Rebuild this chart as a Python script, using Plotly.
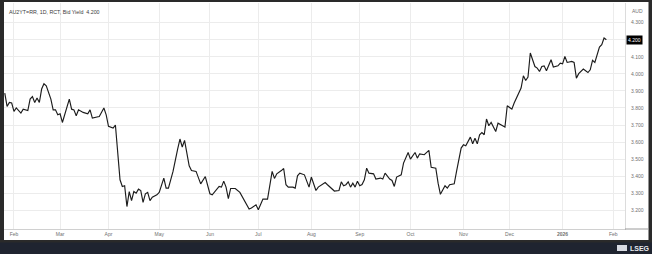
import plotly.graph_objects as go

# ---------------- data ----------------
dates = [
    "2025-01-28", "2025-01-29", "2025-01-30", "2025-01-31", "2025-02-03", "2025-02-04", "2025-02-06",
    "2025-02-07", "2025-02-11", "2025-02-12", "2025-02-13", "2025-02-14", "2025-02-17", "2025-02-18",
    "2025-02-19", "2025-02-20", "2025-02-21", "2025-02-25", "2025-02-26", "2025-02-27", "2025-02-28",
    "2025-03-03", "2025-03-04", "2025-03-05", "2025-03-07", "2025-03-10", "2025-03-11", "2025-03-12",
    "2025-03-13", "2025-03-17", "2025-03-19", "2025-03-20", "2025-03-21", "2025-03-25", "2025-03-26",
    "2025-03-28", "2025-03-31",
    "2025-04-01", "2025-04-03", "2025-04-04", "2025-04-07", "2025-04-08", "2025-04-09", "2025-04-10",
    "2025-04-11", "2025-04-14", "2025-04-15", "2025-04-16", "2025-04-17", "2025-04-18", "2025-04-21",
    "2025-04-22", "2025-04-23", "2025-04-24", "2025-04-25", "2025-04-28", "2025-04-30",
    "2025-05-01", "2025-05-05", "2025-05-06", "2025-05-07", "2025-05-09", "2025-05-13", "2025-05-14",
    "2025-05-15", "2025-05-16", "2025-05-20", "2025-05-21", "2025-05-23", "2025-05-27", "2025-05-29",
    "2025-06-02", "2025-06-03", "2025-06-06", "2025-06-09", "2025-06-10", "2025-06-11", "2025-06-12",
    "2025-06-13", "2025-06-17", "2025-06-19", "2025-06-20", "2025-06-24", "2025-06-25", "2025-06-26",
    "2025-06-30",
    "2025-07-01", "2025-07-02", "2025-07-03", "2025-07-07", "2025-07-09", "2025-07-10", "2025-07-11",
    "2025-07-15", "2025-07-16", "2025-07-17", "2025-07-18", "2025-07-22", "2025-07-23", "2025-07-24",
    "2025-07-25", "2025-07-29", "2025-07-31",
    "2025-08-01", "2025-08-05", "2025-08-06", "2025-08-07", "2025-08-11", "2025-08-12", "2025-08-14",
    "2025-08-15", "2025-08-19", "2025-08-20", "2025-08-21", "2025-08-22", "2025-08-25", "2025-08-26",
    "2025-08-27", "2025-08-28", "2025-08-29",
    "2025-09-01", "2025-09-02", "2025-09-03", "2025-09-04", "2025-09-05", "2025-09-09", "2025-09-10",
    "2025-09-12", "2025-09-15", "2025-09-16", "2025-09-18", "2025-09-19", "2025-09-22", "2025-09-23",
    "2025-09-25", "2025-09-26", "2025-09-30",
    "2025-10-01", "2025-10-03", "2025-10-06", "2025-10-07", "2025-10-09", "2025-10-13", "2025-10-14",
    "2025-10-16", "2025-10-17", "2025-10-20", "2025-10-22", "2025-10-23", "2025-10-24", "2025-10-28",
    "2025-10-29", "2025-10-31",
    "2025-11-03", "2025-11-04", "2025-11-06", "2025-11-07", "2025-11-10", "2025-11-11", "2025-11-12",
    "2025-11-13", "2025-11-14", "2025-11-17", "2025-11-18", "2025-11-19", "2025-11-21", "2025-11-24",
    "2025-11-26", "2025-11-27", "2025-11-28",
    "2025-12-02", "2025-12-03", "2025-12-04", "2025-12-08", "2025-12-09", "2025-12-10", "2025-12-11",
    "2025-12-12", "2025-12-16", "2025-12-17", "2025-12-18", "2025-12-19", "2025-12-22", "2025-12-23",
    "2025-12-25", "2025-12-26", "2025-12-30", "2025-12-31",
    "2026-01-01", "2026-01-02", "2026-01-05", "2026-01-07", "2026-01-08", "2026-01-09", "2026-01-12",
    "2026-01-13", "2026-01-14", "2026-01-16", "2026-01-19", "2026-01-20", "2026-01-21", "2026-01-23",
    "2026-01-26", "2026-01-27", "2026-01-28",
]
bid_yield = [
    3.887, 3.809, 3.832, 3.829, 3.780, 3.800, 3.770,
    3.793, 3.785, 3.852, 3.867, 3.832, 3.858, 3.832,
    3.911, 3.942, 3.930, 3.852, 3.789, 3.789, 3.760,
    3.766, 3.715, 3.766, 3.852, 3.793, 3.789, 3.754,
    3.789, 3.774, 3.766, 3.789, 3.741, 3.747, 3.750,
    3.800, 3.760,
    3.692, 3.682, 3.700, 3.516, 3.379, 3.340, 3.344,
    3.222, 3.310, 3.257, 3.310, 3.300, 3.324, 3.316,
    3.246, 3.297, 3.305, 3.257, 3.277, 3.291,
    3.305, 3.389, 3.330, 3.330, 3.428, 3.559, 3.618,
    3.571, 3.610, 3.461, 3.433, 3.428, 3.355, 3.398,
    3.297, 3.291, 3.340, 3.336, 3.371, 3.336, 3.269,
    3.328, 3.328, 3.305, 3.281, 3.226, 3.207, 3.213,
    3.232,
    3.203, 3.238, 3.266, 3.266, 3.428, 3.387, 3.414,
    3.433, 3.445, 3.350, 3.336, 3.336, 3.330, 3.402,
    3.418, 3.408, 3.336,
    3.395, 3.316, 3.336, 3.344, 3.363, 3.350, 3.324,
    3.313, 3.316, 3.367, 3.344, 3.350, 3.367, 3.336,
    3.359, 3.336, 3.371,
    3.344, 3.351, 3.379, 3.447, 3.418, 3.414, 3.383,
    3.389, 3.383, 3.418, 3.383, 3.375, 3.340, 3.395,
    3.408, 3.477, 3.539,
    3.500, 3.539, 3.506, 3.531, 3.526, 3.551, 3.452,
    3.447, 3.359, 3.294, 3.344, 3.330, 3.350, 3.355,
    3.428, 3.565,
    3.584, 3.578, 3.629, 3.590, 3.623, 3.590, 3.643,
    3.656, 3.643, 3.735, 3.696, 3.715, 3.662, 3.711,
    3.696, 3.688, 3.813,
    3.793, 3.829, 3.858, 3.917, 3.989, 3.961, 3.981,
    4.122, 4.043, 4.034, 4.014, 4.043, 4.047, 4.018,
    4.083, 4.040, 4.047, 4.063,
    4.059, 4.102, 4.067, 4.073, 4.067, 3.975, 4.001,
    4.014, 4.028, 4.008, 4.024, 4.079, 4.067, 4.157,
    4.171, 4.210, 4.200,
]
month_ticks = ["2025-02-03", "2025-03-03", "2025-04-01", "2025-05-01", "2025-06-02", "2025-07-01",
               "2025-08-01", "2025-09-01", "2025-10-01", "2025-11-03", "2025-12-01", "2026-01-01",
               "2026-02-02"]
month_labels = ["Feb", "Mar", "Apr", "May", "Jun", "Jul", "Aug", "Sep", "Oct", "Nov", "Dec",
                "<b>2026</b>", "Feb"]
yield_ticks = [3.2, 3.3, 3.4, 3.5, 3.6, 3.7, 3.8, 3.9, 4.0, 4.1, 4.2, 4.3]
last_value = 4.200
header = "AU2YT=RR, 1D, RCT, Bid Yield  4.200"
currency = "AUD"

# tick texts: the last-value badge takes the place of its own tick label
yield_labels = ["" if abs(v - last_value) < 1e-9 else f"{v:.3f}" for v in yield_ticks]

# ---------------- layout helpers ----------------
W, H = 652, 254
L, R, T, B = 4, 27, 3, 25
PW, PH = W - L - R, H - T - B


def pxx(x):
    return (x - L) / PW


def pxy(y):
    return (H - B - y) / PH


FONT = "Liberation Sans"
GRID = "#ececec"
TXT = "#707070"
FRAME = "#2a2a2a"

fig = go.Figure()
fig.add_trace(go.Scatter(
    x=dates, y=bid_yield, mode="lines",
    line=dict(color="#1c1c1c", width=1.15),
    hoverinfo="skip", showlegend=False,
))

shapes = [
    # dark frame
    dict(type="rect", xref="paper", yref="paper", x0=pxx(0), x1=pxx(4), y0=pxy(W), y1=pxy(-5),
         fillcolor=FRAME, line=dict(width=0), layer="above"),
    dict(type="rect", xref="paper", yref="paper", x0=pxx(648.5), x1=pxx(W + 2), y0=pxy(W), y1=pxy(-5),
         fillcolor=FRAME, line=dict(width=0), layer="above"),
    dict(type="rect", xref="paper", yref="paper", x0=pxx(-2), x1=pxx(W + 2), y0=pxy(2), y1=pxy(-5),
         fillcolor=FRAME, line=dict(width=0), layer="above"),
    dict(type="rect", xref="paper", yref="paper", x0=pxx(-2), x1=pxx(W + 2), y0=pxy(H + 5), y1=pxy(240),
         fillcolor=FRAME, line=dict(width=0), layer="above"),
    dict(type="rect", xref="paper", yref="paper", x0=pxx(-2), x1=pxx(W + 2), y0=pxy(H + 5), y1=pxy(242.5),
         fillcolor="#1f2430", line=dict(width=0), layer="above"),
    # right axis corner line
    dict(type="line", xref="paper", yref="paper", x0=1, x1=pxx(648.5), y0=pxy(229), y1=pxy(229),
         line=dict(color="#9a9a9a", width=1), layer="above"),
    # logo badge
    dict(type="rect", xref="paper", yref="paper", x0=pxx(617), x1=pxx(627), y0=pxy(251), y1=pxy(245),
         fillcolor="#d8dbe2", line=dict(width=0), layer="above"),
]

annotations = [
    dict(text=header, xref="paper", yref="paper", x=pxx(7), y=pxy(12), xanchor="left", yanchor="middle",
         showarrow=False, font=dict(family=FONT, size=5.3, color="#3a3a3a")),
    dict(text=currency, xref="paper", yref="paper", x=pxx(637), y=pxy(11), xanchor="center", yanchor="middle",
         showarrow=False, font=dict(family=FONT, size=5, color=TXT)),
    dict(text=f"{last_value:.3f}", xref="paper", yref="y", x=pxx(626), y=last_value, xanchor="left",
         yanchor="middle", showarrow=False, bgcolor="#000000", borderpad=1,
         font=dict(family=FONT, size=5, color="#ffffff")),
    dict(text="<b>LSEG</b>", xref="paper", yref="paper", x=pxx(628), y=pxy(248), xanchor="left",
         yanchor="middle", showarrow=False, font=dict(family=FONT, size=7, color="#e8eaee")),
]

fig.update_layout(
    width=W, height=H,
    margin=dict(l=L, r=R, t=T, b=B, pad=0),
    paper_bgcolor="#ffffff", plot_bgcolor="#ffffff",
    showlegend=False,
    shapes=shapes, annotations=annotations,
    xaxis=dict(
        type="date",
        range=["2025-01-27 16:00", "2026-02-09 02:00"],
        rangebreaks=[dict(bounds=["sat", "mon"])],
        tickmode="array", tickvals=month_ticks, ticktext=month_labels,
        showgrid=True, gridcolor=GRID, gridwidth=1,
        showline=True, linecolor="#d0d0d0", linewidth=1,
        ticks="", zeroline=False,
        tickfont=dict(family=FONT, size=5, color=TXT),
    ),
    yaxis=dict(
        side="right",
        range=[3.0904, 4.4155],
        tickmode="array", tickvals=yield_ticks, ticktext=yield_labels,
        showgrid=True, gridcolor=GRID, gridwidth=1,
        showline=True, linecolor="#dcdcdc", linewidth=1,
        ticks="", zeroline=False, ticklabelstandoff=4,
        tickfont=dict(family=FONT, size=5, color=TXT),
    ),
)

fig.write_html("out.html")
